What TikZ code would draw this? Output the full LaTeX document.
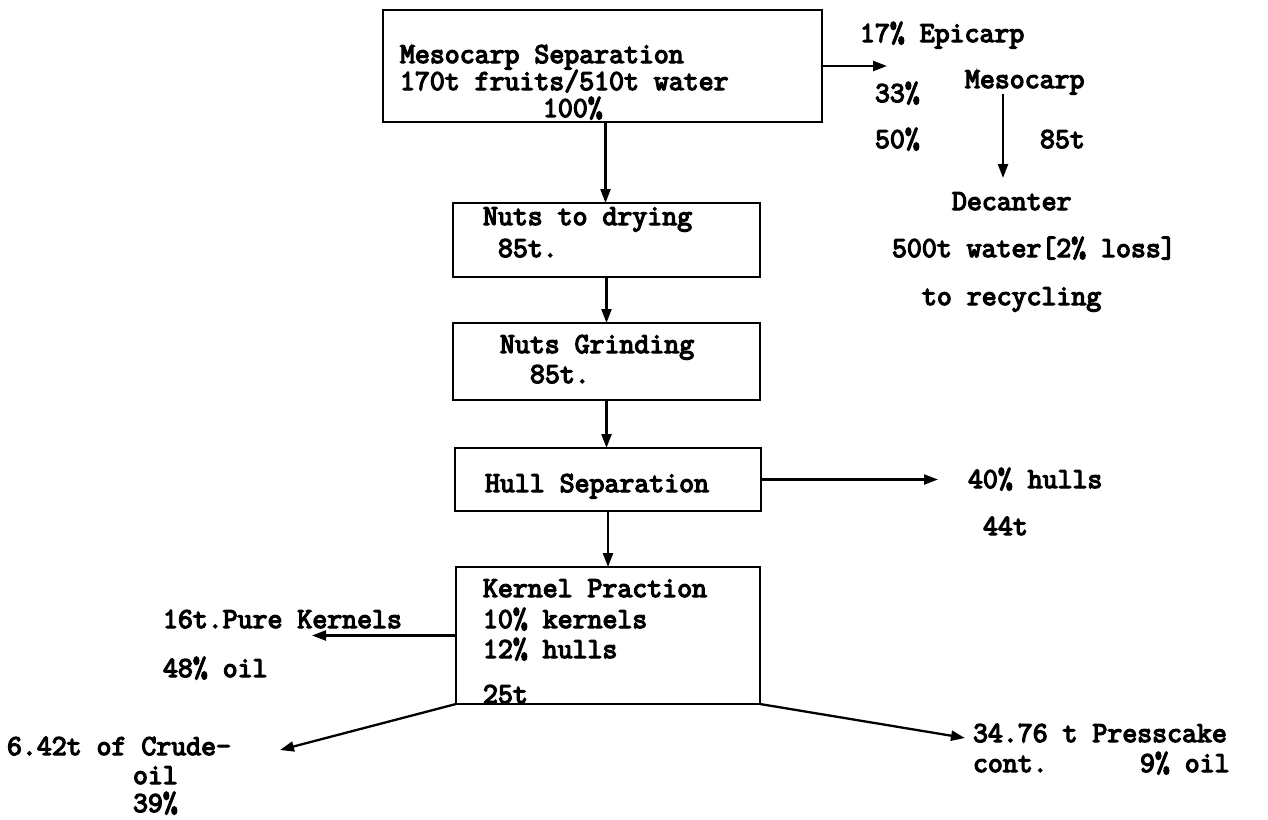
\documentclass[tikz,border=0pt]{standalone}
\usepackage{fontspec}
\usetikzlibrary{arrows.meta,calc}
\newfontfamily\tw{Latin Modern Mono}[FakeBold=4.5]
\tikzset{
  txt/.style={anchor=base west, inner sep=0pt, outer sep=0pt, font=\tw\fontsize{29}{34}\selectfont},
  procbox/.style={draw, line width=2.6pt, anchor=north west, inner sep=0pt, outer sep=0pt},
  arr/.style={line width=2.3pt, -{Triangle[length=14pt,width=10pt]}},
}
\begin{document}
\begin{tikzpicture}[x=1pt,y=-1pt]
\useasboundingbox[fill=white] (0,0) rectangle (1268,819);

% boxes
\node[procbox, minimum width=439pt, minimum height=112pt] (b1) at (383,10) {};
\node[procbox, minimum width=307pt, minimum height=74pt] (b2) at (453,203) {};
\node[procbox, minimum width=307pt, minimum height=77pt] (b3) at (453,323) {};
\node[procbox, minimum width=306pt, minimum height=63pt] (b4) at (455,448) {};
\node[procbox, minimum width=304pt, minimum height=137pt] (b5) at (456,567) {};

% box texts
\node[txt] (t1) at (400,63) {Mesocarp Separation};
\node[txt] (t2) at (400,90) {170t fruits/510t water};
\node[txt] (t3) at (543,117) {100\%};
\node[txt] (n1) at (483,225) {Nuts to drying};
\node[txt] (n2) at (498,257) {85t.};
\node[txt] (g1) at (500,353) {Nuts Grinding};
\node[txt] (g2) at (530,383) {85t.};
\node[txt] (hs) at (485,492) {Hull Separation};
\node[txt] (kf) at (483,597) {Kernel Praction};
\node[txt] (k10) at (483,628) {10\% kernels};
\node[txt] (k12) at (483,658) {12\% hulls};
\node[txt] (k25) at (483,703) {25t};

% top right texts
\node[txt] (epi) at (860,42) {17\% Epicarp};
\node[txt] (p33) at (875,102) {33\%};
\node[txt] (meso) at (965,88) {Mesocarp};
\node[txt] (p50) at (875,148) {50\%};
\node[txt] (t85) at (1040,148) {85t};
\node[txt] (dec) at (952,210) {Decanter};
\node[txt] (water) at (892,257) {500t water[2\% loss]};
\node[txt] (recyc) at (922,305) {to recycling};

% right of hull
\node[txt] (h40) at (968,488) {40\% hulls};
\node[txt] (h44) at (983,535) {44t};

% left outputs
\node[txt] (pk) at (163,628) {16t.Pure Kernels};
\node[txt] (o48) at (163,677) {48\% oil};
\node[txt] (crude) at (7,755) {6.42t of Crude-};
\node[txt] (oil) at (133,784) {oil};
\node[txt] (p39) at (133,812) {39\%};

% right outputs
\node[txt] (pc1) at (973,742) {34.76 t Presscake};
\node[txt] (pc2) at (973,772) {cont.};
\node[txt] (pc3) at (1140,772) {9\% oil};

% free arrow ends
\coordinate (a1) at ($(b1.south)+(3,0)$);
\coordinate (c1) at (887,65);
\coordinate (m2) at (1003,178);
\coordinate (h1) at (938,482);
\coordinate (k1) at (312,636);
\coordinate (k2) at (280,750);
\coordinate (k3) at (965,738);

% connectors
\draw[arr] (b1.east) -- (c1 |- b1.east);
\draw[arr] (a1) -- (a1 |- b2.north);
\draw[arr] (b2.south) -- (b2.south |- b3.north);
\draw[arr] (b3.south) -- (b3.south |- b4.north);
\draw[arr] (b4.south) -- (b4.south |- b5.north);
\draw[arr] (b4.east) -- (h1 |- b4.east);
\draw[arr] (m2 |- meso.south) -- (m2);
\draw[arr] (b5.west) -- (k1 |- b5.west);
\draw[arr] (b5.south west) -- (k2);
\draw[arr] (b5.south east) -- (k3);
\end{tikzpicture}
\end{document}
